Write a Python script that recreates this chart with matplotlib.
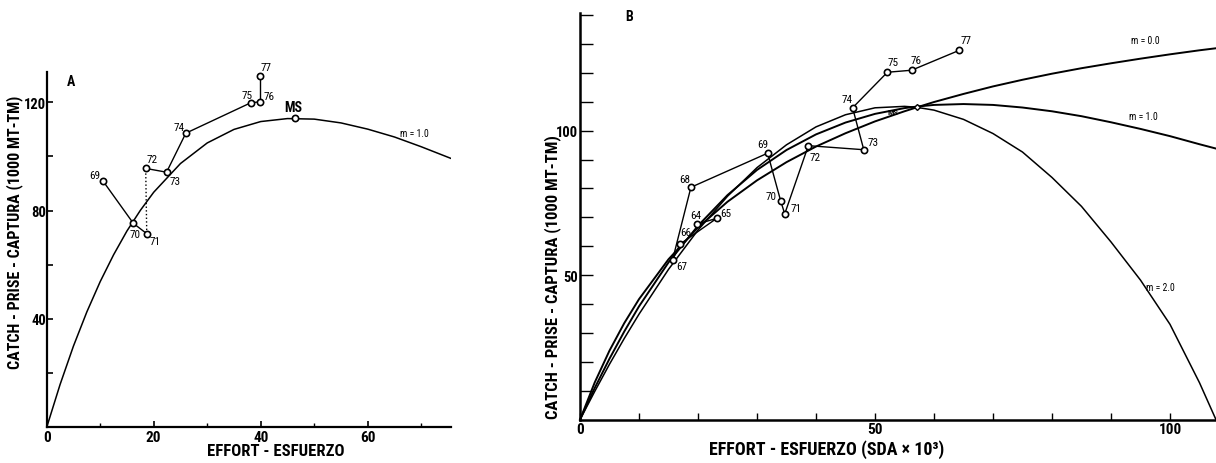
import matplotlib
matplotlib.use("Agg")
import matplotlib.pyplot as plt
from matplotlib import font_manager

# ---------------- data ----------------
# Panel A (left)
a_years = ["69", "70", "71", "72", "73", "74", "75", "76", "77"]
a_effort = [10.5, 16.2, 18.7, 18.5, 22.4, 26.0, 38.1, 39.8, 39.8]
a_catch = [91.0, 75.3, 71.5, 95.6, 94.2, 108.6, 119.8, 120.2, 129.8]
a_ms_effort = 46.5
a_ms_catch = 114.1
a_curve_effort = [0, 2.5, 5, 7.5, 10, 12.5, 15, 17.5, 20, 25, 30, 35, 40, 45, 50,
                  55, 60, 65, 70, 75.8]
a_curve_catch = [0, 15.8, 30.0, 42.6, 53.8, 63.7, 72.5, 80.1, 86.8, 97.4, 105.0,
                 110.0, 112.9, 114.0, 113.8, 112.4, 110.1, 107.2, 103.6, 99.1]

# Panel B (right)
b_years = ["64", "65", "66", "67", "68", "69", "70", "71", "72", "73", "74", "75", "76", "77"]
b_effort = [19.8, 23.2, 17.0, 15.7, 18.8, 31.8, 34.0, 34.7, 38.7, 48.1, 46.2, 52.1, 56.2, 64.3]
b_catch = [67.6, 69.7, 60.8, 55.4, 80.4, 92.2, 75.8, 71.2, 94.8, 93.4, 107.9, 120.2, 120.9, 127.8]
b_curve_effort = [0, 2.5, 5, 7.5, 10, 15, 20, 25, 30, 35, 40, 45, 50, 55, 57, 60, 65,
                  70, 75, 80, 85, 90, 95, 100, 105, 107.8]
b_curve_m0 = [0, 12.9, 23.9, 33.4, 41.7, 55.5, 66.5, 75.4, 82.8, 89.1, 94.5, 99.1, 103.2,
              106.7, 108.0, 109.9, 112.7, 115.3, 117.6, 119.7, 121.6, 123.3, 124.9, 126.4,
              127.8, 128.5]
b_curve_m1 = [0, 11.0, 21.1, 30.5, 39.2, 54.4, 67.1, 77.7, 86.4, 93.3, 98.7, 102.8, 105.8,
              107.8, 108.3, 108.9, 109.2, 108.9, 108.0, 106.7, 105.0, 102.9, 100.6, 98.1,
              95.3, 93.8]
b_curve_m2 = [0, 9.8, 19.2, 28.1, 36.5, 52.0, 65.6, 77.3, 87.2, 95.1, 101.3, 105.5, 107.9,
              108.4, 108.1, 107.1, 103.9, 99.0, 92.6, 83.8, 73.8, 61.5, 48.3, 33.0, 12.8, 0]
b_curve_labels = ["m = 0.0", "m = 1.0", "m = 2.0"]
b_ms_effort = 53.1
b_ms_catch = 106.6
b_conv_effort = 57.1
b_conv_catch = 108.1

# ---------------- fonts ----------------
names = {f.name for f in font_manager.fontManager.ttflist}
FONT = "DejaVu Sans"
for cand in ["Liberation Sans Narrow", "Roboto Condensed", "DejaVu Sans"]:
    if cand in names:
        FONT = cand
        break
plt.rcParams["font.family"] = [FONT, "DejaVu Sans"]
plt.rcParams["font.stretch"] = "condensed"

W, H = 1216, 464
fig = plt.figure(figsize=(W / 100, H / 100), dpi=100)


def fx(px):
    return px / W


def fy(py):
    return 1 - py / H


# ---------------- panel A ----------------
axA = fig.add_axes([fx(46.7), fy(428.3), fx(451.2 - 46.7), (428.3 - 73) / H])
axA.set_xlim(0, 75.6)
axA.set_ylim(0, 131.2)
axA.plot(a_curve_effort, a_curve_catch, color="black", lw=1.1)
seq = list(zip(a_effort, a_catch))
for i in range(len(seq) - 1):
    (x0, y0), (x1, y1) = seq[i], seq[i + 1]
    ls = ":" if (a_years[i], a_years[i + 1]) == ("71", "72") else "-"
    axA.plot([x0, x1], [y0, y1], color="black", lw=1.0, ls=ls)
axA.plot(a_effort, a_catch, "o", ms=4.5, mfc="white", mec="black", mew=1.2)
axA.plot([a_ms_effort], [a_ms_catch], "o", ms=4.5, mfc="white", mec="black", mew=1.2)

a_lab_off = {"69": (-1.5, 2.3), "70": (0.3, -3.9), "71": (1.5, -2.6), "72": (1.2, 3.5),
             "73": (1.6, -3.4), "74": (-1.3, 2.2), "75": (-0.7, 3.0), "76": (1.8, 2.3),
             "77": (1.2, 3.1)}
for yr, x, y in zip(a_years, a_effort, a_catch):
    dx, dy = a_lab_off[yr]
    axA.text(x + dx, y + dy, yr, fontsize=8, ha="center", va="center", clip_on=False)
axA.text(a_ms_effort - 0.4, a_ms_catch + 4.1, "MS", fontsize=10, fontweight="bold",
         ha="center", va="center")
axA.text(66.1, 108.7, "m = 1.0", fontsize=7, ha="left", va="center")
axA.text(4.5, 128.0, "A", fontsize=10, fontweight="bold", ha="center", va="center")

axA.set_xticks([0, 20, 40, 60])
axA.set_xticks([10, 30, 50, 70], minor=True)
axA.set_yticks([20, 40, 60, 80, 100, 120])
axA.set_yticklabels(["", "40", "", "80", "", "120"])
axA.tick_params(axis="x", direction="in", length=4, width=1.2, labelsize=11, pad=2)
axA.tick_params(axis="y", direction="in", length=4, width=1.2, labelsize=10.5, pad=0.5)
axA.tick_params(which="minor", direction="in", length=3, width=1.0)
for lab in axA.get_xticklabels() + axA.get_yticklabels():
    lab.set_fontweight("bold")
for s in ["top", "right"]:
    axA.spines[s].set_visible(False)
for s in ["left", "bottom"]:
    axA.spines[s].set_linewidth(1.6)

fig.text(fx(14.5), fy(232), "CATCH - PRISE - CAPTURA (1000 MT-TM)", rotation=90,
         ha="center", va="center", fontsize=11.5, fontweight="bold")
fig.text(fx(276), fy(451.7), "EFFORT - ESFUERZO", ha="center", va="center",
         fontsize=12, fontweight="bold")

# ---------------- panel B ----------------
axB = fig.add_axes([fx(580), fy(420.7), fx(1216 - 580), (420.7 - 14) / H])
axB.set_xlim(0, 107.8)
axB.set_ylim(0, 140.7)
for ys, lw in zip([b_curve_m0, b_curve_m1, b_curve_m2], [1.4, 1.4, 1.1]):
    axB.plot(b_curve_effort, ys, color="black", lw=lw, clip_on=False)
axB.plot(b_effort, b_catch, color="black", lw=1.0)
axB.plot(b_effort, b_catch, "o", ms=4.5, mfc="white", mec="black", mew=1.2)
axB.plot([b_conv_effort], [b_conv_catch], "D", ms=3, mfc="white", mec="black", mew=1.0)
axB.text(b_ms_effort, b_ms_catch, "MS", fontsize=6, fontweight="bold", ha="center",
         va="center")

b_lab_off = {"64": (-0.1, 3.3), "65": (1.5, 1.7), "66": (1.0, 4.3), "67": (1.5, -2.1),
             "68": (-1.0, 2.9), "69": (-0.8, 3.2), "70": (-1.7, 1.5), "71": (1.9, 1.9),
             "72": (1.1, -3.8), "73": (1.5, 2.8), "74": (-0.9, 3.1), "75": (0.9, 3.7),
             "76": (0.7, 3.7), "77": (1.2, 3.7)}
for yr, x, y in zip(b_years, b_effort, b_catch):
    dx, dy = b_lab_off[yr]
    axB.text(x + dx, y + dy, yr, fontsize=8, ha="center", va="center", clip_on=False)

axB.text(95.9, 131.2, b_curve_labels[0], fontsize=7, ha="center", va="center")
axB.text(95.5, 105.0, b_curve_labels[1], fontsize=7, ha="center", va="center")
axB.text(96.0, 46.0, b_curve_labels[2], fontsize=7, ha="left", va="center")
axB.text(8.4, 139.8, "B", fontsize=10, fontweight="bold", ha="center", va="center",
         clip_on=False)

axB.set_xticks(list(range(0, 101, 10)))
axB.set_xticklabels(["0", "", "", "", "", "50", "", "", "", "", "100"])
axB.set_yticks(list(range(10, 141, 10)))
axB.set_yticklabels(["" if v not in (50, 100) else str(v) for v in range(10, 141, 10)])
axB.tick_params(axis="x", direction="in", length=5, width=1.0, labelsize=11, pad=2)
axB.tick_params(axis="y", direction="in", length=9, width=1.0, labelsize=10.5, pad=1.5)
for lab in axB.get_xticklabels() + axB.get_yticklabels():
    lab.set_fontweight("bold")
for s in ["top", "right"]:
    axB.spines[s].set_visible(False)
for s in ["left", "bottom"]:
    axB.spines[s].set_linewidth(1.8)

fig.text(fx(553), fy(277), "CATCH - PRISE - CAPTURA (1000 MT-TM)", rotation=90,
         ha="center", va="center", fontsize=12, fontweight="bold")
fig.text(fx(826.5), fy(450), "EFFORT - ESFUERZO (SDA × 10³)", ha="center", va="center",
         fontsize=13, fontweight="bold")

fig.savefig("out.png", dpi=100)
